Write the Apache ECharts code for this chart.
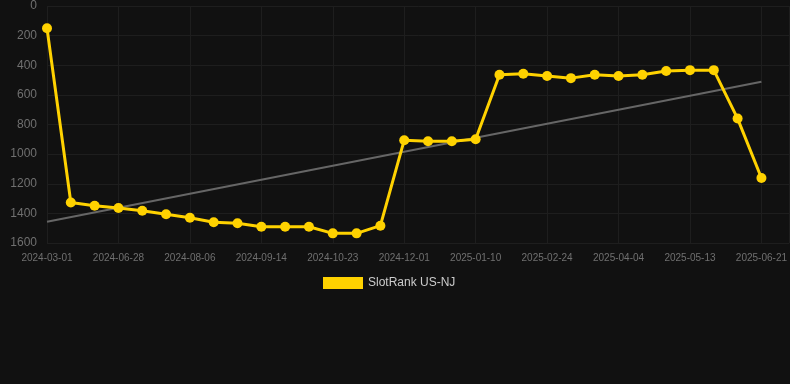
<!DOCTYPE html>
<html>
<head>
<meta charset="utf-8">
<script src="https://cdn.jsdelivr.net/npm/echarts@6/dist/echarts.min.js"></script>
<style>
html,body{margin:0;padding:0;background:#111111;}
#chart{width:790px;height:384px;}
</style>
</head>
<body>
<div id="chart"></div>
<script>
var categories = [
  '2024-03-01','2024-06-02','2024-06-15','2024-06-28','2024-07-11','2024-07-24',
  '2024-08-06','2024-08-19','2024-09-01','2024-09-14','2024-09-27','2024-10-10',
  '2024-10-23','2024-11-05','2024-11-18','2024-12-01','2024-12-14','2024-12-27',
  '2025-01-10','2025-01-25','2025-02-09','2025-02-24','2025-03-09','2025-03-22',
  '2025-04-04','2025-04-17','2025-04-30','2025-05-13','2025-05-26','2025-06-08',
  '2025-06-21'
];
var rankValues = [
  150, 1327, 1348, 1364, 1382, 1406, 1429, 1460, 1467, 1490, 1490, 1490,
  1535, 1535, 1483, 906, 913, 913, 899, 464, 457, 473, 487, 464,
  473, 464, 439, 433, 433, 760, 1161
];
var seriesName = 'SlotRank US-NJ';
var yTicks = [0, 200, 400, 600, 800, 1000, 1200, 1400, 1600];

// linear regression trend
var n = rankValues.length, sx = 0, sy = 0, sxy = 0, sxx = 0;
for (var i = 0; i < n; i++) { sx += i; sy += rankValues[i]; sxy += i * rankValues[i]; sxx += i * i; }
var slope = (n * sxy - sx * sy) / (n * sxx - sx * sx);
var intercept = (sy - slope * sx) / n;
var trendData = [[0, intercept], [n - 1, intercept + slope * (n - 1)]];

var lineData = rankValues.map(function (v, i) { return [i, v]; });

var chart = echarts.init(document.getElementById('chart'));
var font = 'Liberation Sans, Arial, sans-serif';
chart.setOption({
  backgroundColor: '#111111',
  animation: false,
  textStyle: { fontFamily: font },
  grid: { left: 47, right: 0, top: 6, bottom: 141 },
  legend: {
    data: [seriesName],
    top: 272,
    left: 318,
    icon: 'rect',
    itemWidth: 40,
    itemHeight: 12,
    textStyle: { color: '#cccccc', fontSize: 12, fontFamily: font }
  },
  xAxis: {
    type: 'value',
    min: 0,
    max: (n - 1) * 743 / 715,
    interval: 3,
    axisLine: { show: false },
    axisTick: { show: false },
    splitLine: { show: true, lineStyle: { color: '#1e1e1e', width: 1 } },
    axisLabel: {
      color: '#707070', fontSize: 10, fontFamily: font, margin: 10,
      showMaxLabel: false,
      formatter: function (v) { return (Number.isInteger(v) && categories[v]) ? categories[v] : ''; }
    }
  },
  yAxis: {
    type: 'value',
    inverse: true,
    min: yTicks[0],
    max: yTicks[yTicks.length - 1],
    interval: 200,
    axisLine: { show: false },
    axisTick: { show: false },
    splitLine: { show: true, lineStyle: { color: '#1e1e1e', width: 1 } },
    axisLabel: {
      color: '#707070', fontSize: 12, fontFamily: font, margin: 10,
      formatter: function (v) { return String(v); }
    }
  },
  series: [
    {
      name: 'trend',
      type: 'line',
      data: trendData,
      symbol: 'none',
      silent: true,
      lineStyle: { color: '#666666', width: 2 },
      z: 1
    },
    {
      name: seriesName,
      type: 'line',
      data: lineData,
      symbol: 'circle',
      symbolSize: 10,
      itemStyle: { color: '#FFD200' },
      lineStyle: { color: '#FFD200', width: 3 },
      z: 2
    }
  ]
});
</script>
</body>
</html>
